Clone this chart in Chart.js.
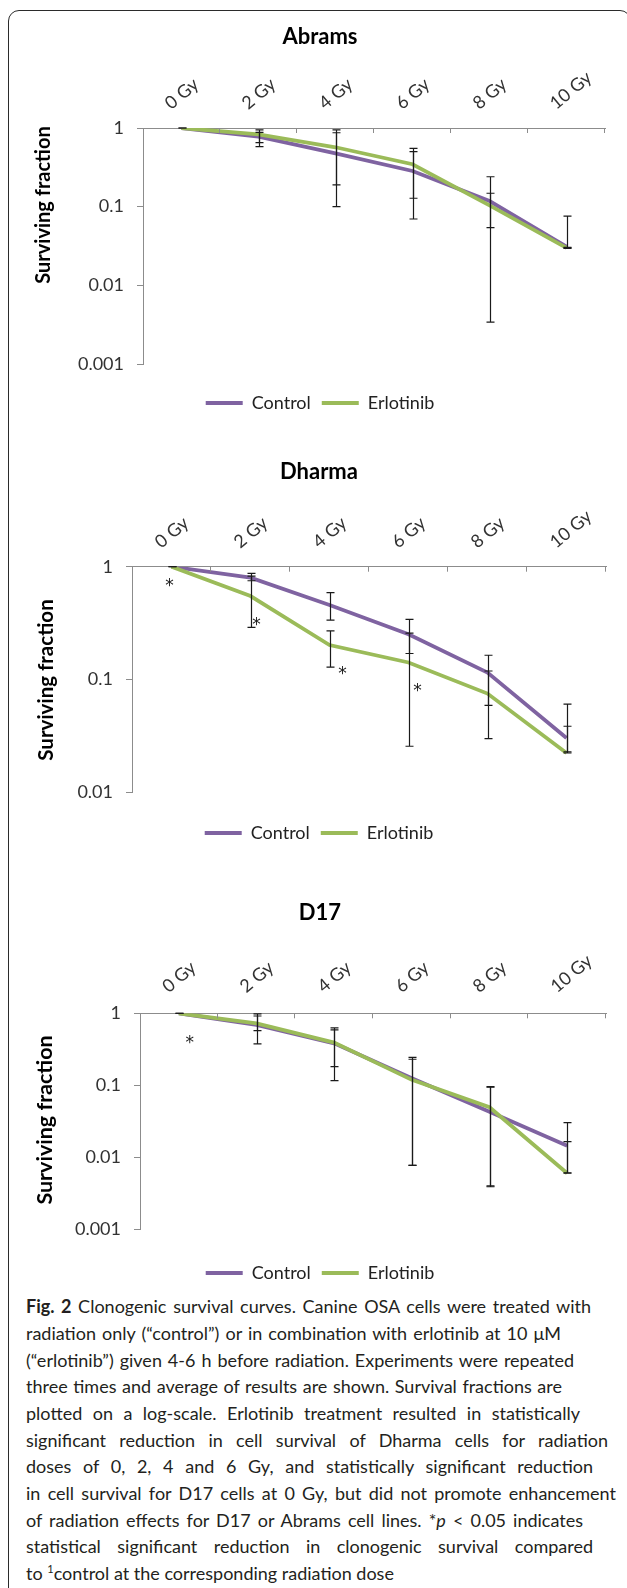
<!DOCTYPE html>
<html>
<head>
<meta charset="utf-8">
<script src="https://cdn.jsdelivr.net/npm/chart.js@4.4.1/dist/chart.umd.min.js"></script>
<style>
html,body{margin:0;padding:0;background:#fff;width:627px;height:1588px;overflow:hidden;position:relative;}
#frame{position:absolute;left:8px;top:10px;width:623px;height:1620px;border:1.6px solid #2b2b2b;border-radius:11px;box-sizing:border-box;}
canvas{position:absolute;left:0;}
.ln{position:absolute;left:26px;white-space:nowrap;line-height:26.67px;font-family:Lato,sans-serif;font-size:18px;color:#231f20;}
.ln b{font-weight:bold;}
.ln sup{font-size:11px;line-height:0;vertical-align:7px;}
</style>
</head>
<body>
<div id="frame"></div>
<canvas id="cA" width="627" height="418" style="top:12px;width:627px;height:418px"></canvas>
<canvas id="cB" width="627" height="430" style="top:432px;width:627px;height:430px"></canvas>
<canvas id="cC" width="627" height="430" style="top:862px;width:627px;height:430px"></canvas>
<div id="caption"></div>
<script>
// ---------- data ----------
const doseLabels = ['0 Gy', '2 Gy', '4 Gy', '6 Gy', '8 Gy', '10 Gy'];
const yTickValues = [1, 0.1, 0.01, 0.001];
const yTickLabels = ['1', '0.1', '0.01', '0.001'];

// Abrams
const abramsControl       = [1, 0.776, 0.477, 0.284, 0.118, 0.031];
const abramsErlotinib     = [1, 0.83, 0.569, 0.346, 0.104, 0.030];
const abramsControlLow    = [1, 0.58, 0.189, 0.0697, 0.0034, 0.030];
const abramsControlHigh   = [1, 0.944, 0.944, 0.50, 0.24, 0.076];
const abramsErlotinibLow  = [1, 0.65, 0.10, 0.128, 0.054, 0.0295];
const abramsErlotinibHigh = [1, 0.88, 0.87, 0.552, 0.148, 0.0305];

// Dharma
const dharmaControl       = [1, 0.80, 0.457, 0.252, 0.115, 0.0303];
const dharmaErlotinib     = [1, 0.549, 0.202, 0.1416, 0.075, 0.0223];
const dharmaControlLow    = [1, 0.751, 0.336, 0.170, 0.059, 0.0228];
const dharmaControlHigh   = [1, 0.873, 0.588, 0.341, 0.164, 0.0604];
const dharmaErlotinibLow  = [1, 0.29, 0.129, 0.0256, 0.0299, 0.0223];
const dharmaErlotinibHigh = [1, 0.826, 0.27, 0.258, 0.119, 0.0385];
const dharmaStarDose      = [0, 1, 2, 3];
const dharmaStarValue     = [0.72, 0.33, 0.121, 0.085];

// D17
const d17Control       = [1, 0.689, 0.383, 0.125, 0.043, 0.0145];
const d17Erlotinib     = [1, 0.726, 0.392, 0.119, 0.0495, 0.006];
const d17ControlLow    = [1, 0.375, 0.116, 0.0077, 0.004, 0.0061];
const d17ControlHigh   = [1, 0.98, 0.626, 0.245, 0.094, 0.0303];
const d17ErlotinibLow  = [1, 0.575, 0.182, 0.0077, 0.0039, 0.006];
const d17ErlotinibHigh = [1, 0.918, 0.587, 0.23, 0.0958, 0.0165];
const d17StarDose      = [0];
const d17StarValue     = [0.435];

const captionLines = [
  '<b>Fig. 2</b> Clonogenic survival curves. Canine OSA cells were treated with',
  'radiation only (\u201ccontrol\u201d) or in combination with erlotinib at 10 \u03bcM',
  '(\u201cerlotinib\u201d) given 4-6 h before radiation. Experiments were repeated',
  'three times and average of results are shown. Survival fractions are',
  'plotted on a log-scale. Erlotinib treatment resulted in statistically',
  'significant reduction in cell survival of Dharma cells for radiation',
  'doses of 0, 2, 4 and 6 Gy, and statistically significant reduction',
  'in cell survival for D17 cells at 0 Gy, but did not promote enhancement',
  'of radiation effects for D17 or Abrams cell lines. *<i>p</i> &lt; 0.05 indicates',
  'statistical significant reduction in clonogenic survival compared',
  'to <sup>1</sup>control at the corresponding radiation dose'
];

// ---------- styles ----------
const PURPLE = '#7F63A1';
const GREEN = '#9BBB59';
const AXIS = '#8C8C8C';
const INK = '#222222';
Chart.defaults.font.family = 'Lato, sans-serif';

// ---------- plugins ----------
const errorBarPlugin = {
  id: 'errorBars',
  afterDatasetsDraw(chart, args, opts) {
    const {ctx} = chart; const x = chart.scales.x, y = chart.scales.y;
    ctx.save();
    ctx.strokeStyle = opts.color; ctx.lineWidth = opts.width;
    (opts.bars || []).forEach(b => {
      b.low.forEach((lo, i) => {
        const hi = b.high[i];
        const px = Math.round(x.getPixelForValue(i)) + 0.5;
        const yl = y.getPixelForValue(lo), yh = y.getPixelForValue(hi);
        ctx.beginPath();
        ctx.moveTo(px, yl); ctx.lineTo(px, yh);
        ctx.moveTo(px - opts.cap, yl); ctx.lineTo(px + opts.cap, yl);
        ctx.moveTo(px - opts.cap, yh); ctx.lineTo(px + opts.cap, yh);
        ctx.stroke();
      });
    });
    ctx.restore();
  }
};

const starPlugin = {
  id: 'stars',
  afterDraw(chart, args, opts) {
    if (!opts.dose) return;
    const {ctx} = chart; const x = chart.scales.x, y = chart.scales.y;
    ctx.save();
    ctx.fillStyle = opts.color;
    ctx.font = opts.size + 'px "DejaVu Sans", sans-serif';
    ctx.textAlign = 'center'; ctx.textBaseline = 'alphabetic';
    const m = ctx.measureText('*');
    const mid = (m.actualBoundingBoxAscent - m.actualBoundingBoxDescent) / 2;
    opts.dose.forEach((d, k) => {
      const px = x.getPixelForValue(d) + opts.dx[k];
      const py = y.getPixelForValue(opts.value[k]);
      ctx.fillText('*', px, py + mid);
    });
    ctx.restore();
  }
};

const yTitlePlugin = {
  id: 'yTitle',
  afterDraw(chart, args, opts) {
    const {ctx} = chart;
    ctx.save();
    ctx.translate(opts.x, opts.y);
    ctx.rotate(-Math.PI / 2);
    ctx.font = 'bold ' + opts.size + 'px Lato, sans-serif';
    ctx.fillStyle = '#000';
    ctx.textAlign = 'center'; ctx.textBaseline = 'middle';
    ctx.fillText(opts.text, 0, 0);
    ctx.restore();
  }
};

const insideTickPlugin = {
  id: 'insideTicks',
  afterDraw(chart, args, opts) {
    const {ctx} = chart; const x = chart.scales.x;
    const top = chart.chartArea.top;
    ctx.save();
    ctx.strokeStyle = opts.color; ctx.lineWidth = 1;
    for (let i = 1; i <= x.ticks.length; i++) {
      const px = Math.round(x.getPixelForValue(i - 0.5)) - 0.5;
      ctx.beginPath(); ctx.moveTo(px, top); ctx.lineTo(px, top + opts.length); ctx.stroke();
    }
    ctx.restore();
  }
};

function makeChart(id, c) {
  const ticksUsed = yTickValues.filter(v => v >= c.min);
  const labelsUsed = yTickLabels.filter((l, i) => yTickValues[i] >= c.min);
  return new Chart(document.getElementById(id), {
    type: 'line',
    data: {
      labels: doseLabels,
      datasets: [
        {label: 'Control', data: c.control, borderColor: PURPLE, backgroundColor: PURPLE,
         borderWidth: 3.8, pointRadius: 0, tension: 0, order: 1},
        {label: 'Erlotinib', data: c.erlotinib, borderColor: GREEN, backgroundColor: GREEN,
         borderWidth: 3.8, pointRadius: 0, tension: 0, order: 0}
      ]
    },
    options: {
      responsive: false, animation: false, devicePixelRatio: 1,
      layout: {padding: {left: c.padLeft, right: c.padRight, top: 0, bottom: c.padBottom}},
      plugins: {
        title: {display: true, text: c.title, color: '#000',
                font: {size: 22, weight: 'bold'}, padding: {top: c.titleTop, bottom: 0}},
        legend: {
          position: 'bottom',
          title: {display: true, text: '', font: {size: 1}, padding: {top: 0, bottom: c.legendGap}},
          labels: {
            boxWidth: 37, boxHeight: 4, padding: 11, color: INK, font: {size: 18},
            generateLabels: (chart) => chart.data.datasets.map((ds, i) => ({
              text: ds.label, fillStyle: ds.borderColor, strokeStyle: ds.borderColor,
              lineWidth: 0, hidden: false, datasetIndex: i, fontColor: INK
            }))
          }
        },
        tooltip: {enabled: false},
        errorBars: {color: '#1a1a1a', width: 1.2, cap: 4, bars: c.bars},
        stars: {color: '#1a1a1a', size: 17, dose: c.starDose, value: c.starValue, dx: c.starDx},
        yTitle: {text: 'Surviving fraction', x: c.yTitleX, y: c.yTitleY, size: c.yTitleSize},
        insideTicks: {color: AXIS, length: 5}
      },
      scales: {
        x: {
          position: 'top', offset: true,
          grid: {display: false},
          border: {display: true, color: AXIS, width: 1},
          ticks: {autoSkip: false, minRotation: 40, maxRotation: 40, padding: c.xPad,
                  color: '#333', font: {size: 18}},
          afterFit: s => { s.height = c.xHeight; }
        },
        y: {
          type: 'logarithmic', min: c.min, max: 1,
          grid: {drawOnChartArea: false, drawTicks: true, tickLength: 6, color: AXIS},
          border: {display: true, color: AXIS, width: 1},
          ticks: {padding: 13, color: '#333', font: {size: 18},
                  callback: (v, i) => labelsUsed[i]},
          afterBuildTicks: s => { s.ticks = ticksUsed.map(v => ({value: v})); },
          afterFit: s => { s.width = c.yWidth; }
        }
      }
    },
    plugins: [errorBarPlugin, starPlugin, yTitlePlugin, insideTickPlugin]
  });
}

makeChart('cA', {
  title: 'Abrams', control: abramsControl, erlotinib: abramsErlotinib, min: 0.001,
  bars: [{low: abramsControlLow, high: abramsControlHigh}, {low: abramsErlotinibLow, high: abramsErlotinibHigh}],
  titleTop: 11.8, xHeight: 77.8, padLeft: 35, padRight: 22, yWidth: 108,
  legendGap: 17.8, padBottom: 8, xPad: 6,
  yTitleX: 44, yTitleY: 193, yTitleSize: 20
});
makeChart('cB', {
  title: 'Dharma', control: dharmaControl, erlotinib: dharmaErlotinib, min: 0.01,
  bars: [{low: dharmaControlLow, high: dharmaControlHigh}, {low: dharmaErlotinibLow, high: dharmaErlotinibHigh}],
  starDose: dharmaStarDose, starValue: dharmaStarValue, starDx: [-2, 6, 13, 9],
  titleTop: 26.5, xHeight: 81.8, padLeft: 32, padRight: 21, yWidth: 100,
  legendGap: 19.5, padBottom: 10, xPad: 6,
  yTitleX: 46, yTitleY: 248, yTitleSize: 20.5
});
makeChart('cC', {
  title: 'D17', control: d17Control, erlotinib: d17Erlotinib, min: 0.001,
  bars: [{low: d17ControlLow, high: d17ControlHigh}, {low: d17ErlotinibLow, high: d17ErlotinibHigh}],
  starDose: d17StarDose, starValue: d17StarValue, starDx: [11],
  titleTop: 37.8, xHeight: 87.1, padLeft: 34, padRight: 21, yWidth: 106,
  legendGap: 22.5, padBottom: 0, xPad: 8,
  yTitleX: 45, yTitleY: 258, yTitleSize: 21.5
});

// ---------- caption ----------
const lineEnds = [591, 561, 574, 562, 580, 608, 593, 616, 583, 593, null];
const cap = document.getElementById('caption');
captionLines.forEach((html, k) => {
  const d = document.createElement('div');
  d.className = 'ln';
  d.innerHTML = html;
  d.style.top = (1306 + 26.67 * k - 13.33 + 0.7) + 'px';
  cap.appendChild(d);
  if (lineEnds[k]) {
    const natural = d.getBoundingClientRect().width;
    const spaces = (d.textContent.match(/ /g) || []).length;
    const target = lineEnds[k] - 26;
    d.style.wordSpacing = ((target - natural) / spaces) + 'px';
  }
});
</script>
</body>
</html>
